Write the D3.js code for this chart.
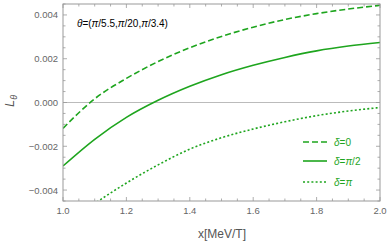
<!DOCTYPE html>
<html><head><meta charset="utf-8">
<script src="https://cdn.jsdelivr.net/npm/d3@7"></script>
<style>body{margin:0;background:#fff}svg{display:block}text{font-family:"Liberation Sans",Arial,sans-serif}</style>
</head><body><svg id="c" width="390" height="245"></svg>
<script>
const xs = [1.0,1.1,1.2,1.3,1.4,1.5,1.6,1.7,1.8,1.9,2.0];
const dashed = [-0.00118,0.00017,0.0011,0.00187,0.0025,0.00302,0.00344,0.00379,0.00406,0.00427,0.00444];
const solid  = [-0.0029,-0.00168,-0.00068,0.0001,0.00074,0.00127,0.0017,0.00206,0.00236,0.00258,0.00274];
const dotted = [-0.0057,-0.00462,-0.00368,-0.00285,-0.00213,-0.00161,-0.00121,-0.00088,-0.0006,-0.00039,-0.00023];
const xTicks = [1.0,1.2,1.4,1.6,1.8,2.0];
const yTicks = [-0.004,-0.002,0,0.002,0.004];
const legendLabels = ["δ=0","δ=π/2","δ=π"];

const green = "#1ea51e";
const L=63,R=380,T=4,B=201;
const svg = d3.select("#c");
const x = d3.scaleLinear().domain([1,2]).range([L,R]);
const y = d3.scaleLinear().domain([-0.0045,0.0045]).range([B,T]);

svg.append("clipPath").attr("id","cp").append("rect").attr("x",L).attr("y",T).attr("width",R-L).attr("height",B-T);

svg.append("line").attr("x1",L).attr("x2",R).attr("y1",y(0)).attr("y2",y(0)).attr("stroke","#bbb").attr("stroke-width",1);

const line = d3.line().x((d,i)=>x(xs[i])).y(d=>y(d)).curve(d3.curveMonotoneX);
const series = [[dashed,"6,3"],[solid,null],[dotted,"2,2.2"]];
const g = svg.append("g").attr("clip-path","url(#cp)");
series.forEach(([s,da])=>{
  g.append("path").attr("d",line(s)).attr("fill","none").attr("stroke",green).attr("stroke-width",1.6)
   .attr("stroke-dasharray",da);
});

svg.append("rect").attr("x",L).attr("y",T).attr("width",R-L).attr("height",B-T).attr("fill","none").attr("stroke","#999").attr("stroke-width",1);

const tk = svg.append("g").attr("stroke","#999").attr("stroke-width",0.8);
const xMinor = d3.range(1,2.0001,0.05);
xMinor.forEach(v=>{
  const major = xTicks.some(t=>Math.abs(t-v)<1e-6);
  const len = major?4:2.5;
  tk.append("line").attr("x1",x(v)).attr("x2",x(v)).attr("y1",B).attr("y2",B-len);
  tk.append("line").attr("x1",x(v)).attr("x2",x(v)).attr("y1",T).attr("y2",T+len);
});
const yMinor = d3.range(-0.0045,0.00450001,0.0005);
yMinor.forEach(v=>{
  const major = yTicks.some(t=>Math.abs(t-v)<1e-9);
  const len = major?4:2.5;
  tk.append("line").attr("x1",L).attr("x2",L+len).attr("y1",y(v)).attr("y2",y(v));
  tk.append("line").attr("x1",R).attr("x2",R-len).attr("y1",y(v)).attr("y2",y(v));
});

xTicks.forEach(v=>{
  svg.append("text").attr("x",x(v)).attr("y",B+13).attr("text-anchor","middle")
    .attr("font-size",9.5).attr("fill","#666").text(v.toFixed(1));
});
yTicks.forEach(v=>{
  svg.append("text").attr("x",L-5).attr("y",y(v)+3.5).attr("text-anchor","end")
    .attr("font-size",9.5).attr("fill","#666").text((v<0?"\u2212":"")+Math.abs(v).toFixed(3));
});

svg.append("text").attr("x",222).attr("y",238).attr("text-anchor","middle").attr("font-size",12).attr("fill","#555").text("x[MeV/T]");
const yl = svg.append("text").attr("transform","translate(14,101) rotate(-90)").attr("text-anchor","middle").attr("font-size",13).attr("fill","#555");
yl.append("tspan").attr("font-style","italic").text("L");
yl.append("tspan").attr("font-style","italic").attr("font-size",9).attr("dy",3).text("θ");

const an = svg.append("text").attr("x",77).attr("y",27).attr("font-size",10).attr("fill","#000");
[["θ",1],["=(",0],["π",1],["/5.5,",0],["π",1],["/20,",0],["π",1],["/3.4)",0]].forEach(([t,it])=>{
  an.append("tspan").attr("font-style",it?"italic":"normal").text(t);
});

const ly = [142,161,182];
series.forEach(([s,da],i)=>{
  svg.append("line").attr("x1",303).attr("x2",327).attr("y1",ly[i]).attr("y2",ly[i]).attr("stroke",green).attr("stroke-width",1.6).attr("stroke-dasharray",da);
  const t = svg.append("text").attr("x",334).attr("y",ly[i]+3.5).attr("font-size",10).attr("fill",green);
  for (const ch of legendLabels[i]) {
    t.append("tspan").attr("font-style",(ch==="δ"||ch==="π")?"italic":"normal").text(ch);
  }
});
</script></body></html>
